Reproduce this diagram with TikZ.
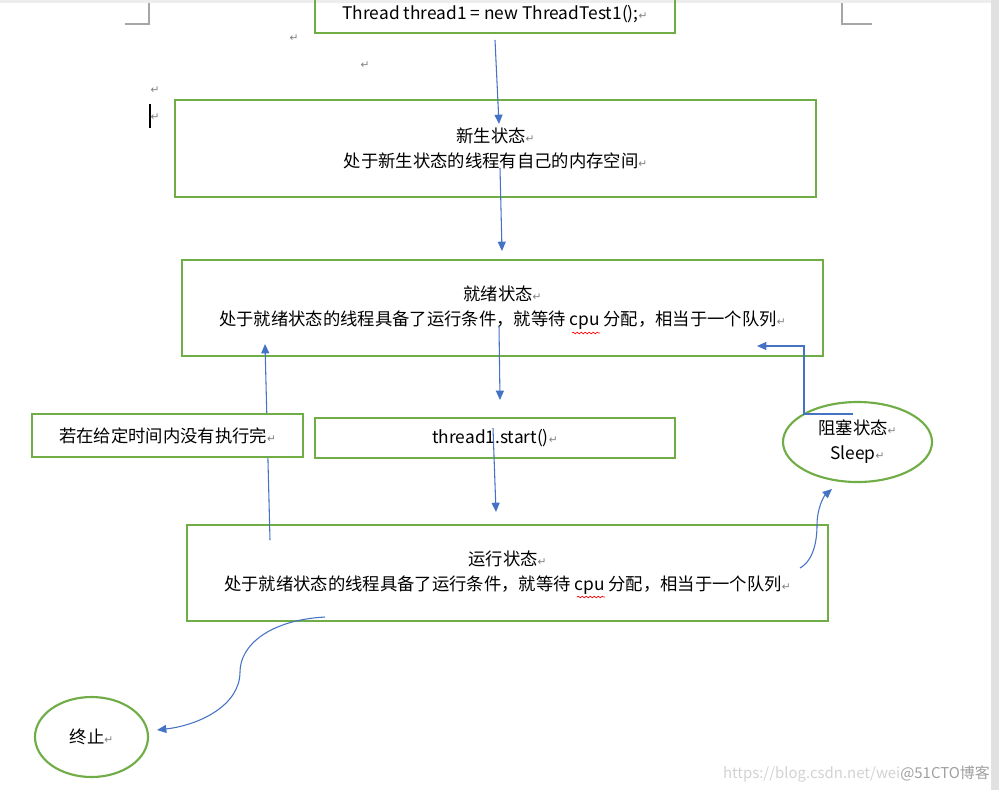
\documentclass[tikz,border=0pt]{standalone}
\usepackage{fontspec}
\setmainfont{Noto Sans CJK SC}
\newfontfamily\markfont{DejaVu Sans}
\usetikzlibrary{shapes.geometric,arrows.meta,decorations.pathmorphing}
\definecolor{boxgreen}{RGB}{112,173,71}
\definecolor{linkblue}{RGB}{68,114,196}
\definecolor{pagegray}{RGB}{225,225,225}
\newcommand{\retmark}{{\markfont\fontsize{8}{8}\selectfont\color{gray}↵}}

\begin{document}
\begin{tikzpicture}[x=0.75pt, y=-0.75pt,
    every node/.style = {font=\fontsize{13}{18.75}\selectfont, align=center, inner sep=0pt},
    box/.style = {draw=boxgreen, line width=1.6pt, rectangle},
    oval/.style = {draw=boxgreen, line width=1.6pt, ellipse},
    flow/.style = {draw=linkblue, line width=0.8pt, -{Triangle[length=7pt,width=6pt]}},
    spell/.style = {draw=red, line width=0.5pt, decorate,
      decoration={snake, amplitude=0.6pt, segment length=3pt}},
    crop/.style = {draw=gray!70, line width=0.8pt}
  ]
    \useasboundingbox (0,0) rectangle (999,790);
    % page edges and crop marks
    \fill[pagegray!60] (0,0) rectangle (999,3);
    \fill[pagegray] (991,0) rectangle (999,790);
    \draw[crop] (125,24) -- (149,24) -- (149,3);
    \draw[crop] (842,3) -- (842,24) -- (872,24);
    \draw[black, line width=0.8pt] (150,104) -- (150,128);
    \node (m1) at (294,38) {\retmark};
    \node (m2) at (365,65) {\retmark};
    \node (m3) at (155,90) {\retmark};
    \node (m4) at (155,117) {\retmark};

    % states
    \node[box, minimum width=270pt, minimum height=28.5pt] (thread) at (495,14)
        {Thread thread1 = new ThreadTest1();\retmark};
    \node[box, minimum width=480.75pt, minimum height=72.75pt] (birth) at (495.5,148.5)
        {新生状态\retmark\\处于新生状态的线程有自己的内存空间\retmark};
    \node[box, minimum width=480.75pt, minimum height=72pt] (ready) at (502.5,308)
        {就绪状态\retmark\\处于就绪状态的线程具备了运行条件，就等待 cpu 分配，相当于一个队列\retmark};
    \node[box, minimum width=270pt, minimum height=30pt] (start) at (495,438)
        {thread1.start()\retmark};
    \node[oval, minimum width=111.75pt, minimum height=60pt] (block) at (857.5,442)
        {阻塞状态\retmark\\Sleep\retmark};
    \node[box, minimum width=480.75pt, minimum height=72pt] (run) at (507.5,573)
        {运行状态\retmark\\处于就绪状态的线程具备了运行条件，就等待 cpu 分配，相当于一个队列\retmark};
    \node[oval, minimum width=84.75pt, minimum height=60pt] (dead) at (91.5,737)
        {终止\retmark};

    % free ends of the connectors
    \coordinate (t1) at (495,40);   \coordinate (b1) at (499,124);
    \coordinate (b2) at (500,168);  \coordinate (r1) at (502,251);
    \coordinate (r2) at (499,326);  \coordinate (s1) at (500,400);
    \coordinate (s2) at (493,428);  \coordinate (u1) at (496,512);
    \coordinate (u2) at (270,540);  \coordinate (r3) at (265,344);
    \coordinate (k1) at (853,414);  \coordinate (r4) at (757,346);
    \coordinate (u3) at (800,568);  \coordinate (k2) at (832,489);
    \coordinate (u4) at (325,617);  \coordinate (d1) at (157,730);

    \draw[flow] (t1) -- (b1);
    \draw[flow] (b2) -- (r1);
    \draw[flow] (r2) -- (s1);
    \draw[flow] (s2) -- (u1);
    \draw[flow] (u2) -- (r3);
    \draw[flow] (k1) -- (804,414) -- (804,346) -- (r4);
    \draw[flow] (u3) .. controls (814,560) and (817,540) .. (817,525)
        .. controls (817,508) and (824,496) .. (k2);
    \draw[flow] (u4) .. controls (270,620) and (240,645) .. (240,672)
        .. controls (240,705) and (200,725) .. (d1);

    \node[box, fill=white, minimum width=203.25pt, minimum height=32.25pt] (timeout) at (167.5,435.5)
        {若在给定时间内没有执行完\retmark};

    % spelling marks under cpu
    \draw[spell] (572,333) -- (600,333);
    \draw[spell] (577,597) -- (605,597);

    \node[anchor=base east, text=gray!35, font=\fontsize{11.2}{12}\selectfont] (mark) at (990,778)
        {https://blog.csdn.net/wei\textcolor{gray!75}{@51CTO博客}};
\end{tikzpicture}
\end{document}
